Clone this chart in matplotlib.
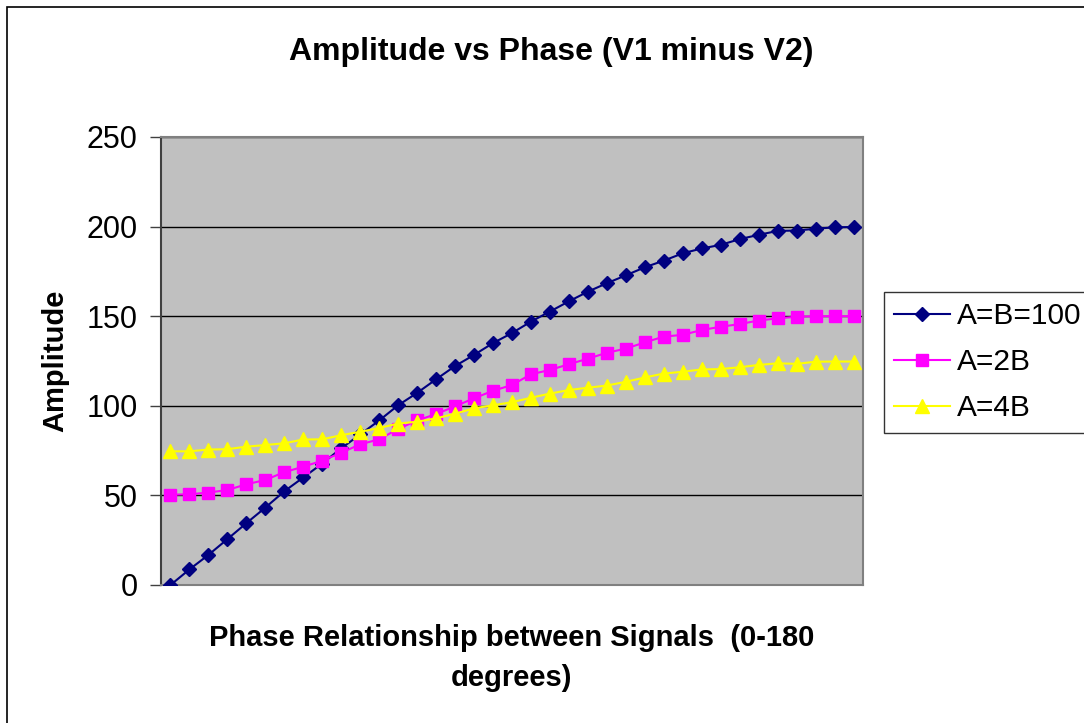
import matplotlib
matplotlib.use("Agg")
import matplotlib.pyplot as plt
from matplotlib.patches import Rectangle

plt.rcParams['font.family'] = ['Liberation Sans', 'DejaVu Sans']

phase_deg = list(range(0, 181, 5))
series_names = ["A=B=100", "A=2B", "A=4B"]
amp_equal = [0, 8.7, 16.8, 25.6, 34.5, 43.2, 52.3, 60.0, 67.8, 76.3, 84.0, 91.8,
             100.3, 107.2, 114.8, 122.2, 128.4, 135.0, 140.6, 147.0, 152.6, 158.3,
             163.7, 168.4, 172.8, 177.3, 181.0, 185.1, 187.8, 189.8, 193.0, 195.4,
             197.6, 197.8, 198.8, 199.6, 199.8]
amp_2b = [50.4, 50.6, 51.6, 53.0, 56.2, 58.6, 63.0, 66.0, 69.4, 73.8, 78.5, 81.3,
          87.1, 91.8, 95.4, 99.7, 104.2, 108.4, 111.6, 117.6, 120.0, 123.2, 126.3,
          129.6, 131.9, 135.4, 138.6, 139.6, 142.3, 144.1, 145.6, 147.6, 148.8,
          149.7, 150.0, 150.0, 150.0]
amp_4b = [74.6, 74.6, 75.6, 75.8, 77.2, 78.1, 79.1, 81.2, 81.3, 83.6, 85.5, 87.6,
          90.1, 91.1, 93.0, 95.6, 98.6, 100.3, 102.0, 104.5, 106.8, 108.8, 110.1,
          111.3, 113.4, 115.8, 118.0, 119.0, 120.3, 120.5, 121.5, 122.8, 123.7,
          123.4, 124.6, 124.7, 124.7]
y_ticks = [0, 50, 100, 150, 200, 250]

W, H = 1084, 723
fig = plt.figure(figsize=(W / 100, H / 100), dpi=100)
fig.patch.set_facecolor('white')

# outer chart border
fig.add_artist(Rectangle((7 / W, -0.05), 1.2, 1 - 7 / H + 0.05, transform=fig.transFigure,
                         fill=False, edgecolor='black', linewidth=1.2))

ax = fig.add_axes([161 / W, (H - 585) / H, (863 - 161) / W, (585 - 137) / H])
ax.set_facecolor('#c0c0c0')

x = list(range(len(phase_deg)))
ax.plot(x, amp_equal, color='#000080', marker='D', markersize=6.8, linewidth=1.5,
        label=series_names[0], zorder=3)
ax.plot(x, amp_2b, color='#ff00ff', marker='s', markersize=8.5, linewidth=1.5,
        label=series_names[1], zorder=3)
ax.plot(x, amp_4b, color='#ffff00', marker='^', markersize=9.5, linewidth=1.5,
        label=series_names[2], zorder=3)

ax.set_xlim(-0.5, len(phase_deg) - 0.5)
ax.set_ylim(0, 250)
ax.set_yticks(y_ticks)
ax.set_yticklabels([str(v) for v in y_ticks], fontsize=22)
ax.set_xticks([])
ax.grid(axis='y', color='black', linewidth=1.0)
ax.set_axisbelow(True)
ax.tick_params(axis='y', direction='out', length=8, width=1, color='#404040', pad=9)
for side in ['top', 'right', 'bottom']:
    ax.spines[side].set_color('#808080')
    ax.spines[side].set_linewidth(1.5)
ax.spines['left'].set_color('#404040')
ax.spines['left'].set_linewidth(1.5)

fig.text(551 / W, 1 - 52 / H, "Amplitude vs Phase (V1 minus V2)", ha='center', va='center',
         fontsize=23, fontweight='bold')
fig.text(512 / W, 1 - 658 / H, "Phase Relationship between Signals  (0-180\ndegrees)",
         ha='center', va='center', fontsize=21, fontweight='bold', linespacing=1.5)
fig.text(55 / W, 1 - 361 / H, "Amplitude", ha='center', va='center', rotation=90,
         fontsize=21, fontweight='bold')

leg = fig.legend(loc='upper left', bbox_to_anchor=(884 / W, 1 - 292 / H), fontsize=21.5,
                 frameon=True, fancybox=False, edgecolor='black', handlelength=1.85,
                 handletextpad=0.25, labelspacing=0.6, borderpad=0.35, borderaxespad=0)
leg.get_frame().set_linewidth(1.0)

fig.savefig("out.png", dpi=100)
